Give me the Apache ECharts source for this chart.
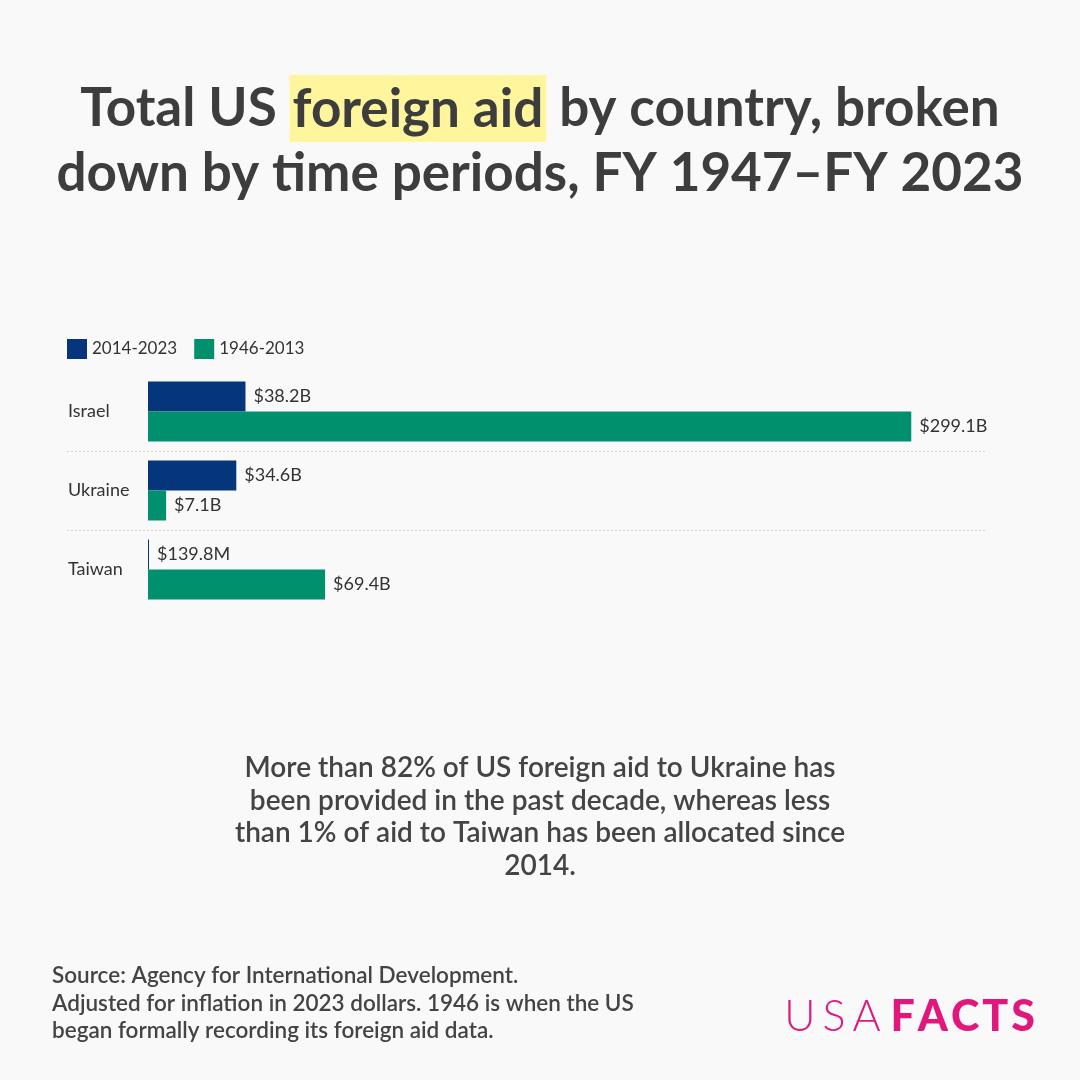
<!DOCTYPE html>
<html>
<head>
<meta charset="utf-8">
<script src="https://cdn.jsdelivr.net/npm/echarts@6/dist/echarts.min.js"></script>
<style>html,body{margin:0;padding:0;background:#f9f9f9;}#c{width:1080px;height:1080px;}</style>
</head>
<body>
<div id="c"></div>
<script>
const countries = ['Israel', 'Ukraine', 'Taiwan'];
const seriesNames = ['2014-2023', '1946-2013'];
const recent = [38.2, 34.6, 0.1398];
const earlier = [299.1, 7.1, 69.4];
const recentLabels = ['$38.2B', '$34.6B', '$139.8M'];
const earlierLabels = ['$299.1B', '$7.1B', '$69.4B'];

const FONT = 'Lato';
const BLUE = '#05357a';
const GREEN = '#00906e';
const TXT = '#333333';

const gridTop = 372, gridBottom = 471, gridLeft = 148, gridRight = 95;
const band = (1080 - gridTop - gridBottom) / countries.length;

const chart = echarts.init(document.getElementById('c'));
chart.setOption({
  backgroundColor: '#f9f9f9',
  animation: false,
  textStyle: { fontFamily: FONT },
  legend: {
    left: 67, top: 339, padding: 0, itemWidth: 20, itemHeight: 20, itemGap: 17,
    icon: 'rect',
    textStyle: { fontSize: 17, color: TXT, fontFamily: FONT },
    data: seriesNames
  },
  grid: [
    { left: gridLeft, right: gridRight, top: gridTop, bottom: gridBottom },
    { left: 67, right: gridRight, top: gridTop + band, bottom: gridBottom + band }
  ],
  xAxis: [
    { gridIndex: 0, type: 'value', min: 0, max: 328, show: false },
    { gridIndex: 1, type: 'value', min: 0, max: 1, show: false }
  ],
  yAxis: [
    {
      gridIndex: 0, type: 'category', data: countries, inverse: true,
      axisLine: { show: false }, axisTick: { show: false }, splitLine: { show: false },
      axisLabel: { align: 'left', margin: 80, fontSize: 18, color: TXT, fontFamily: FONT }
    },
    {
      gridIndex: 1, type: 'value', min: 0, max: 1, interval: 1,
      axisLine: { show: false }, axisTick: { show: false }, axisLabel: { show: false },
      splitLine: { show: true, lineStyle: { color: '#d4d4d4', type: [2, 2], width: 1 } }
    }
  ],
  series: [
    {
      name: seriesNames[0], type: 'bar', xAxisIndex: 0, yAxisIndex: 0,
      data: recent, barWidth: 30, barGap: '0%', barMinHeight: 1,
      itemStyle: { color: BLUE },
      label: { show: true, position: 'right', distance: 8, fontSize: 18, color: TXT, fontFamily: FONT,
        formatter: p => recentLabels[p.dataIndex] }
    },
    {
      name: seriesNames[1], type: 'bar', xAxisIndex: 0, yAxisIndex: 0,
      data: earlier, barWidth: 30, barGap: '0%',
      itemStyle: { color: GREEN },
      label: { show: true, position: 'right', distance: 8, fontSize: 18, color: TXT, fontFamily: FONT,
        formatter: p => earlierLabels[p.dataIndex] }
    }
  ],
  graphic: [
    {
      type: 'text', x: 540, y: 76,
      style: {
        text: 'Total US {hl|foreign aid} by country, broken\ndown by time periods, FY 1947\u2013FY 2023',
        font: 'bold 53px ' + FONT, fill: '#3d3d3d', align: 'center', textAlign: 'center', lineHeight: 65,
        rich: { hl: { backgroundColor: '#fff59c', font: 'bold 53px ' + FONT, fill: '#3d3d3d', lineHeight: 65, padding: [8, 3, 6, 3] } }
      }
    },
    {
      type: 'text', x: 540, y: 752,
      style: {
        text: 'More than 82% of US foreign aid to Ukraine has\nbeen provided in the past decade, whereas less\nthan 1% of aid to Taiwan has been allocated since\n2014.',
        font: '600 28px ' + FONT, fill: '#444444', align: 'center', textAlign: 'center', lineHeight: 32.5
      }
    },
    {
      type: 'text', x: 52, y: 962,
      style: {
        text: 'Source: Agency for International Development.\nAdjusted for inflation in 2023 dollars. 1946 is when the US\nbegan formally recording its foreign aid data.',
        font: '600 22.5px ' + FONT, fill: '#444444', lineHeight: 27.5
      }
    },
    {
      type: 'text', x: 1035, y: 996,
      style: {
        align: 'right', textAlign: 'right',
        text: '{a|U}{a|S}{a|A}{g| }{b|F}{b|A}{b|C}{b|T}{c|S}',
        rich: {
          a: { font: '300 43px ' + FONT, fill: '#e0187c', padding: [0, 7, 0, 0] },
          g: { font: '300 10px ' + FONT, fill: '#e0187c' },
          b: { font: '900 43px ' + FONT, fill: '#e0187c', padding: [0, 3, 0, 0] },
          c: { font: '900 43px ' + FONT, fill: '#e0187c' }
        }
      }
    }
  ]
});
</script>
</body>
</html>
